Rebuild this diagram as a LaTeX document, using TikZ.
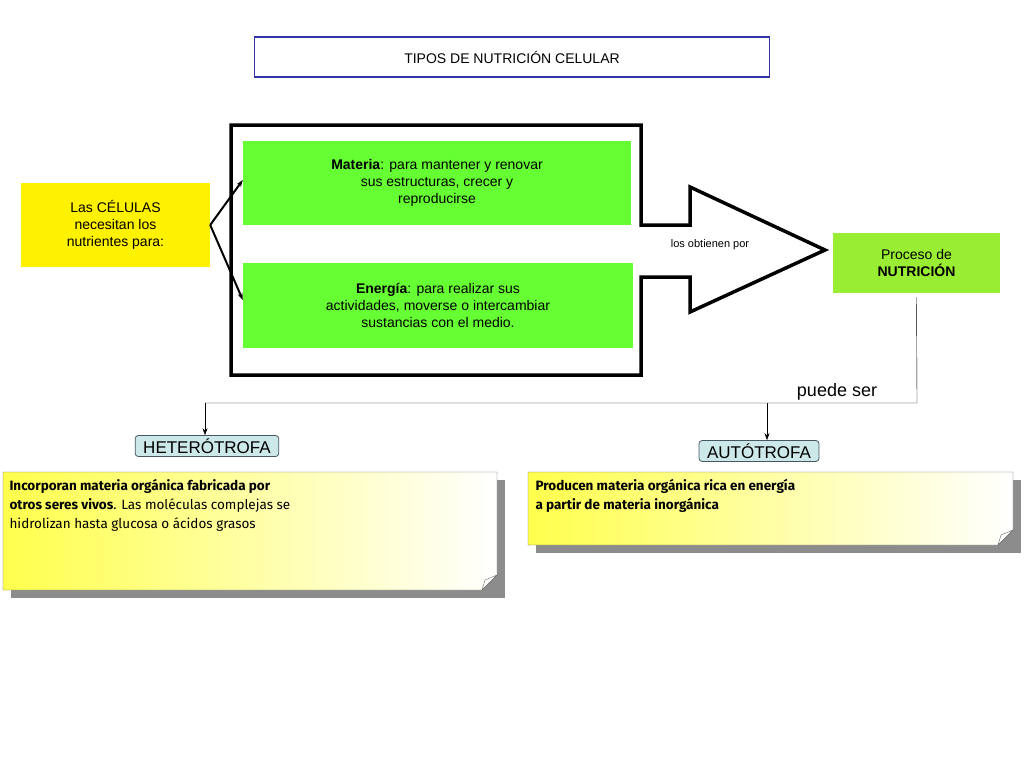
\documentclass[tikz,border=0pt]{standalone}
\usepackage{fontspec}
\setmainfont{Liberation Sans}
\newfontfamily\notefont{Fira Sans}
\usetikzlibrary{arrows.meta,calc,positioning}
\definecolor{verde}{HTML}{66FF33}
\definecolor{verdeclaro}{HTML}{99EE33}
\definecolor{celeste}{HTML}{CDE8E8}
\definecolor{azultit}{HTML}{3333AA}
\tikzset{
  caja/.style={fill=verde,align=center,inner sep=0pt,font=\fontsize{14}{17}\selectfont},
  etiqueta/.style={draw=black!70!cyan,fill=celeste,rounded corners=3pt,thick,font=\fontsize{17}{20}\selectfont,inner xsep=8pt,inner ysep=3pt},
  nota/.style={font=\notefont\fontsize{13.5}{19}\selectfont,align=left,anchor=north west},
  flecha/.style={-{Stealth[length=7pt,width=5pt]}}
}
\begin{document}
\begin{tikzpicture}[x=1pt,y=-1pt]
\useasboundingbox (0,0) rectangle (1024,768);
% titulo
\node[draw=azultit,line width=1.5pt,fill=white,minimum width=515pt,minimum height=40pt,
  font=\fontsize{14}{17}\selectfont] (titulo) at (512,57) {TIPOS DE NUTRICI\'ON CELULAR};
% marco con flecha
\draw[line width=3.5pt,fill=white] (231,125) -- (641,125) -- (641,225) -- (690,225) -- (690,187)
  -- (825,250) -- (690,312) -- (690,277) -- (641,277) -- (641,375) -- (231,375) -- cycle;
\node[caja,minimum width=388pt,minimum height=84pt] (materia) at (437,183)
  {\textbf{Materia}: para mantener y renovar\\ sus estructuras, crecer y\\ reproducirse};
\node[caja,minimum width=390pt,minimum height=85pt] (energia) at (438,305)
  {\textbf{Energ\'ia}: para realizar sus\\ actividades, moverse o intercambiar\\ sustancias con el medio.};
\node[fill=yellow,align=center,minimum width=189pt,minimum height=84pt,inner sep=0pt,
  font=\fontsize{14}{17}\selectfont] (celulas) at (115.5,225) {Las C\'ELULAS\\ necesitan los\\ nutrientes para:};
\draw[flecha,line width=2pt] (celulas.east) -- (materia.west |- 0,180);
\draw[flecha,line width=2pt] (celulas.east) -- (energia.west |- 0,300);
\node[font=\fontsize{11}{13}\selectfont] (obtienen) at (710,245) {los obtienen por};
\node[fill=verdeclaro,align=center,minimum width=167pt,minimum height=60pt,inner sep=0pt,
  font=\fontsize{14}{17}\selectfont] (proceso) at (916.5,263) {Proceso de\\ \textbf{NUTRICI\'ON}};
% ramas
\node[etiqueta] (hetero) at (207,446) {HETER\'OTROFA};
\node[etiqueta] (auto) at (759,451) {AUT\'OTROFA};
\coordinate (codo) at (917,403);
\draw (proceso.south |- 0,297) -- (codo) -- (205,403);
\draw[flecha] (205,403) -- (hetero.north -| 205,0);
\draw[flecha] (767,403) -- (auto.north -| 767,0);
\node[font=\fontsize{18}{20}\selectfont,anchor=south] (puede) at (837,404) {puede ser};
% notas
\foreach \xa/\ya/\xb/\yb in {3/472/497/590, 528/472/1013/545}{
  \fill[black!45] (\xa+8,\ya+8) rectangle (\xb+8,\yb+8);
  \shade[left color=yellow!70,right color=white,draw=black!60]
    (\xa,\ya) -- (\xb,\ya) -- (\xb,\yb-15) -- (\xb-15,\yb) -- (\xa,\yb) -- cycle;
  \shade[top color=white,bottom color=white,draw=black!60] (\xb,\yb-15) -- (\xb-12,\yb-10) -- (\xb-15,\yb) -- cycle;
}
\node[nota] (nhetero) at (6,476) {\textbf{Incorporan materia org\'anica fabricada por}\\
  \textbf{otros seres vivos}. Las mol\'eculas complejas se\\ hidrolizan hasta glucosa o \'acidos grasos};
\node[nota] (nauto) at (532,476) {\textbf{Producen materia org\'anica rica en energ\'ia}\\
  \textbf{a partir de materia inorg\'anica}};
\end{tikzpicture}
\end{document}
